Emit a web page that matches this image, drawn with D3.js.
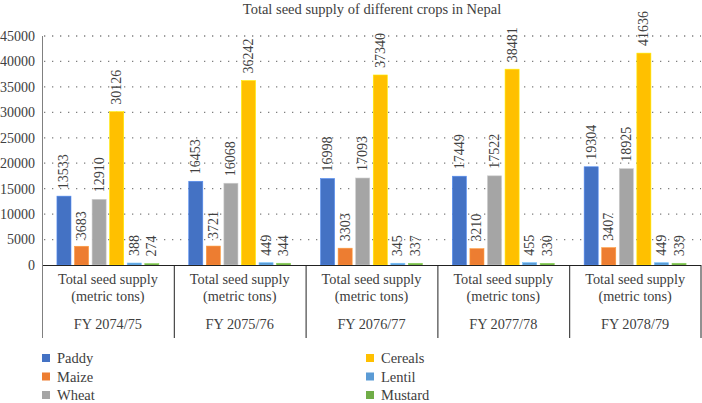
<!DOCTYPE html>
<html>
<head>
<meta charset="utf-8">
<script src="https://cdn.jsdelivr.net/npm/d3@7"></script>
<style>
  body { margin: 0; background: #fff; }
</style>
</head>
<body>
<div id="chart"></div>
<script>
// Data
const years = ["FY 2074/75", "FY 2075/76", "FY 2076/77", "FY 2077/78", "FY 2078/79"]
const crops = ["Paddy", "Maize", "Wheat", "Cereals", "Lentil", "Mustard"]
const paddy = [13533, 16453, 16998, 17449, 19304]
const maize = [3683, 3721, 3303, 3210, 3407]
const wheat = [12910, 16068, 17093, 17522, 18925]
const cereals = [30126, 36242, 37340, 38481, 41636]
const lentil = [388, 449, 345, 455, 449]
const mustard = [274, 344, 337, 330, 339]
const yTicks = [0, 5000, 10000, 15000, 20000, 25000, 30000, 35000, 40000, 45000]
const colors = ["#4472C4", "#ED7D31", "#A5A5A5", "#FFC000", "#5B9BD5", "#70AD47"]

const series = [paddy, maize, wheat, cereals, lentil, mustard]

const width = 702, height = 403
const margin = {top: 36, right: 1, bottom: 138, left: 42}
const font = "'Liberation Serif', 'Times New Roman', 'DejaVu Serif', serif"
const textColor = "#404040"

const svg = d3.select("#chart")
    .append("svg")
    .attr("width", width)
    .attr("height", height)
    .attr("font-family", font)
    .style("font-family", font)

// Title
svg.append("text")
    .attr("x", 372)
    .attr("y", 14)
    .attr("text-anchor", "middle")
    .attr("fill", textColor)
    .style("font-size", "14.5px")
    .text("Total seed supply of different crops in Nepal")

const x0 = d3.scaleBand()
    .domain(years)
    .range([margin.left, width - margin.right])

const x1 = d3.scaleBand()
    .domain(crops)
    .range([0, x0.bandwidth()])
    .paddingInner(0.2)
    .paddingOuter(0.85)

const y = d3.scaleLinear()
    .domain([0, 45000])
    .range([height - margin.bottom, margin.top])

// Gridlines (dotted)
svg.append("g")
    .selectAll("line")
    .data(yTicks.slice(1))
    .join("line")
    .attr("x1", margin.left + 2)
    .attr("x2", width - margin.right)
    .attr("y1", d => y(d))
    .attr("y2", d => y(d))
    .attr("stroke", "#7f7f7f")
    .attr("stroke-width", 1.3)
    .attr("stroke-dasharray", "1.3,6.7")

// Y tick labels
svg.append("g")
    .selectAll("text")
    .data(yTicks)
    .join("text")
    .attr("x", 35)
    .attr("y", d => y(d))
    .attr("dy", "0.35em")
    .attr("text-anchor", "end")
    .attr("fill", textColor)
    .style("font-size", "14px")
    .text(d => d)

// Y axis line
svg.append("line")
    .attr("x1", margin.left + 0.5).attr("x2", margin.left + 0.5)
    .attr("y1", y(45000)).attr("y2", y(0))
    .attr("stroke", "#808080")
    .attr("stroke-width", 1)

// Bars
const groups = svg.append("g")
    .selectAll("g")
    .data(years)
    .join("g")
    .attr("transform", d => `translate(${x0(d)},0)`)

groups.selectAll("rect")
    .data((d, i) => crops.map((c, j) => ({crop: c, value: series[j][i], color: colors[j]})))
    .join("rect")
    .attr("x", d => x1(d.crop))
    .attr("y", d => y(d.value))
    .attr("width", x1.bandwidth())
    .attr("height", d => y(0) - y(d.value))
    .attr("fill", d => d.color)
    .attr("stroke", d => d3.color(d.color).brighter(0.6))
    .attr("stroke-width", 0.6)

// Value labels (rotated)
groups.selectAll("text")
    .data((d, i) => crops.map((c, j) => ({crop: c, value: series[j][i]})))
    .join("text")
    .attr("transform", d => `translate(${x1(d.crop) + x1.bandwidth() / 2 + 4.5},${y(d.value) - 7}) rotate(-90)`)
    .attr("text-anchor", "start")
    .attr("fill", textColor)
    .style("font-size", "14px")
    .text(d => d.value)

// X axis baseline and group separators
const axisY = y(0)
svg.append("line")
    .attr("x1", margin.left).attr("x2", width - margin.right)
    .attr("y1", axisY + 0.5).attr("y2", axisY + 0.5)
    .attr("stroke", "#222")
    .attr("stroke-width", 1)

const seps = years.map(d => x0(d)).concat([x0(years[years.length - 1]) + x0.bandwidth()])
svg.append("g")
    .selectAll("line")
    .data(seps)
    .join("line")
    .attr("x1", d => Math.min(d, width - 1.5) + 0.5)
    .attr("x2", d => Math.min(d, width - 1.5) + 0.5)
    .attr("y1", axisY)
    .attr("y2", axisY + 73)
    .attr("stroke", (d, i) => i === 0 ? "#808080" : "#222")
    .attr("stroke-width", 1)

// Category labels
const cats = svg.append("g")
    .selectAll("g")
    .data(years)
    .join("g")
    .attr("transform", d => `translate(${x0(d) + x0.bandwidth() / 2},0)`)

cats.append("text")
    .attr("y", axisY + 19)
    .attr("text-anchor", "middle")
    .attr("fill", textColor)
    .style("font-size", "14.3px")
    .text("Total seed supply")

cats.append("text")
    .attr("y", axisY + 36)
    .attr("text-anchor", "middle")
    .attr("fill", textColor)
    .style("font-size", "14.3px")
    .text("(metric tons)")

cats.append("text")
    .attr("y", axisY + 64)
    .attr("text-anchor", "middle")
    .attr("fill", textColor)
    .style("font-size", "14.3px")
    .text(d => d)

// Legend
const legend = svg.append("g")
    .selectAll("g")
    .data(crops)
    .join("g")
    .attr("transform", (d, i) => `translate(${i < 3 ? 42 : 366},${358 + (i % 3) * 18.5})`)

legend.append("rect")
    .attr("x", 0)
    .attr("y", -4)
    .attr("width", 8)
    .attr("height", 8)
    .attr("fill", (d, i) => colors[i])

legend.append("text")
    .attr("x", 15)
    .attr("dy", "0.35em")
    .attr("fill", textColor)
    .style("font-size", "14.5px")
    .text(d => d)
</script>
</body>
</html>
